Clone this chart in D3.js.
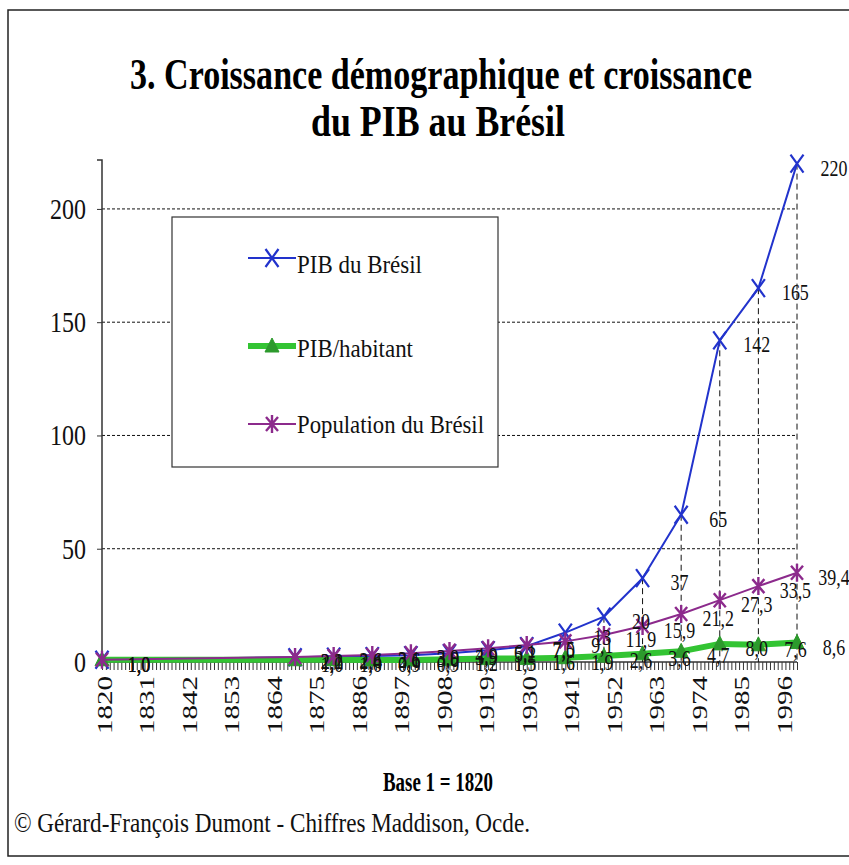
<!DOCTYPE html>
<html><head><meta charset="utf-8">
<script src="https://cdn.jsdelivr.net/npm/d3@7"></script>
<style>body{margin:0;background:#fff;} svg{display:block;} text{font-family:"Liberation Serif","Times New Roman",serif;}</style>
</head><body>
<svg id="c" width="849" height="865"></svg>
<script>
const years      = [1820,1870,1880,1890,1900,1910,1920,1930,1940,1950,1960,1970,1980,1990,2000];
const pib        = [1.0, 2.1, 2.4, 2.6, 3.0, 3.9, 5.2, 7.0, 13, 20, 37, 65, 142, 165, 220];
const pibHab     = [1.0, 1.0, 1.0, 0.9, 0.9, 1.2, 1.5, 1.6, 1.9, 2.6, 3.6, 4.7, 8.0, 7.6, 8.6];
const population = [1.0, 2.2, 2.6, 3.1, 3.9, 4.9, 6.1, 7.5, 9.1, 11.9, 15.9, 21.2, 27.3, 33.5, 39.4];
const yTicks     = [0, 50, 100, 150, 200];
const xTickLabels = [1820,1831,1842,1853,1864,1875,1886,1897,1908,1919,1930,1941,1952,1963,1974,1985,1996];
const seriesNames = ["PIB du Brésil", "PIB/habitant", "Population du Brésil"];

const svg = d3.select("#c");
const x = d3.scaleLinear().domain([1820, 2000]).range([102, 797]);
const y = d3.scaleLinear().domain([0, 221.6]).range([662, 160]);
const SX = 0.78;

// outer frame
svg.append("rect").attr("x",8).attr("y",10).attr("width",880).attr("height",846)
  .attr("fill","none").attr("stroke","#222").attr("stroke-width",1.5);

// title
svg.append("text").attr("x",130).attr("y",89).attr("font-size",44).attr("font-weight","bold")
  .attr("textLength",622).attr("lengthAdjust","spacingAndGlyphs").text("3. Croissance démographique et croissance");
svg.append("text").attr("x",311).attr("y",136).attr("font-size",44).attr("font-weight","bold")
  .attr("textLength",254).attr("lengthAdjust","spacingAndGlyphs").text("du PIB au Brésil");

// gridlines
svg.append("g").selectAll("line").data(yTicks.filter(d=>d>0)).join("line")
  .attr("x1",x(1820)).attr("x2",x(2000)).attr("y1",d=>y(d)).attr("y2",d=>y(d))
  .attr("stroke","#111").attr("stroke-width",1).attr("stroke-dasharray","3,2");

// y axis
const yAxis = svg.append("g").attr("transform",`translate(${x(1820)},0)`)
  .call(d3.axisLeft(y).tickValues(yTicks).tickSize(5).tickFormat(""));
yAxis.select(".domain").attr("d",`M-5,${y(221.6)}H0V${y(0)}`).attr("stroke","#333").attr("stroke-width",1.5);
yAxis.selectAll(".tick line").attr("stroke","#333");
svg.append("g").selectAll("text").data(yTicks).join("text")
  .attr("transform",d=>`translate(86,${y(d)+10}) scale(0.8,1)`)
  .attr("text-anchor","end").attr("font-size",30).attr("fill","#111").text(d=>d);

// x axis: yearly minor ticks
const allYears = d3.range(1820, 2001);
const xAxis = svg.append("g").attr("transform",`translate(0,${y(0)})`)
  .call(d3.axisBottom(x).tickValues(allYears).tickSize(8).tickFormat(""));
xAxis.select(".domain").attr("stroke","#333").attr("stroke-width",1.5).attr("d",`M${x(1820)},0H${x(2000)}`);
xAxis.selectAll(".tick line").attr("stroke","#333").attr("stroke-width",1);
svg.append("g").selectAll("text").data(xTickLabels).join("text")
  .attr("transform",d=>`translate(${x(d)+10},676) scale(0.75,1) rotate(-90)`)
  .attr("text-anchor","end").attr("font-size",29).attr("fill","#111").text(d=>d);

// drop lines
const maxVals = years.map((yr,i)=>Math.max(pib[i],pibHab[i],population[i]));
svg.append("g").selectAll("line").data(years).join("line")
  .attr("x1",d=>x(d)).attr("x2",d=>x(d)).attr("y1",(d,i)=>y(maxVals[i])).attr("y2",y(0))
  .attr("stroke","#111").attr("stroke-width",1).attr("stroke-dasharray","6,4");

const blue = "#2233cc", green = "#33c433", greenDark = "#2c9a2c", purple = "#8c2a8c";
const series = [
  {name:seriesNames[0], vals:pib, color:blue, width:2, marker:"x", fmt:v=> v>=10 ? d3.format("d")(v) : d3.format(".1f")(v).replace(".",",")},
  {name:seriesNames[1], vals:pibHab, color:green, width:6, marker:"tri", fmt:v=>d3.format(".1f")(v).replace(".",",")},
  {name:seriesNames[2], vals:population, color:purple, width:2, marker:"star", fmt:v=>d3.format(".1f")(v).replace(".",",")}
];
const markerPath = {
  x:"M-6.5,-9L6.5,9M-6.5,9L6.5,-9",
  star:"M-6,-7L6,7M-6,7L6,-7M0,-9L0,9",
  tri:"M0,-8L7,6L-7,6Z"
};
function drawMarker(g, type, color){
  if(type==="tri") g.append("path").attr("d",markerPath.tri).attr("fill",greenDark).attr("stroke",greenDark).attr("stroke-width",1);
  else g.append("path").attr("d",markerPath[type]).attr("fill","none").attr("stroke",color).attr("stroke-width",type==="x"?2.2:2.4);
}

const line = d3.line().x(d=>x(d[0])).y(d=>y(d[1]));
series.forEach(s=>{
  const pts = years.map((yr,i)=>[yr,s.vals[i]]);
  svg.append("path").datum(pts).attr("d",line).attr("fill","none")
    .attr("stroke",s.color).attr("stroke-width",s.width).attr("stroke-linejoin","round");
  pts.forEach(p=>{
    const g = svg.append("g").attr("transform",`translate(${x(p[0])},${y(p[1])})`);
    drawMarker(g, s.marker, s.color);
  });
});
// data labels
series.forEach(s=>{
  svg.append("g").selectAll("text").data(years).join("text")
    .attr("transform",(d,i)=>`translate(${x(d)+37},${y(s.vals[i])+12}) scale(${SX},1)`)
    .attr("text-anchor","middle").attr("font-size",23).attr("fill","#111")
    .text((d,i)=>s.fmt(s.vals[i]));
});

// legend
svg.append("rect").attr("x",172).attr("y",217).attr("width",326).attr("height",250)
  .attr("fill","#fff").attr("stroke","#333").attr("stroke-width",1.2);
const legLineY = [258, 346, 424], legBase = [273, 357, 433], legLen = [125, 116, 187];
series.forEach((s,i)=>{
  svg.append("line").attr("x1",248).attr("x2",296).attr("y1",legLineY[i]).attr("y2",legLineY[i])
    .attr("stroke",s.color).attr("stroke-width",s.width);
  const g = svg.append("g").attr("transform",`translate(272,${legLineY[i]})`);
  drawMarker(g, s.marker, s.color);
  svg.append("text").attr("x",297).attr("y",legBase[i]).attr("font-size",25).attr("fill","#111")
    .attr("textLength",legLen[i]).attr("lengthAdjust","spacingAndGlyphs").text(s.name);
});

// footer
svg.append("text").attr("x",383).attr("y",791).attr("font-size",27).attr("font-weight","bold")
  .attr("textLength",110).attr("lengthAdjust","spacingAndGlyphs").text("Base 1 = 1820");
svg.append("text").attr("x",14).attr("y",832).attr("font-size",27).attr("fill","#111")
  .attr("textLength",516).attr("lengthAdjust","spacingAndGlyphs").text("© Gérard-François Dumont - Chiffres Maddison, Ocde.");
</script>
</body></html>
